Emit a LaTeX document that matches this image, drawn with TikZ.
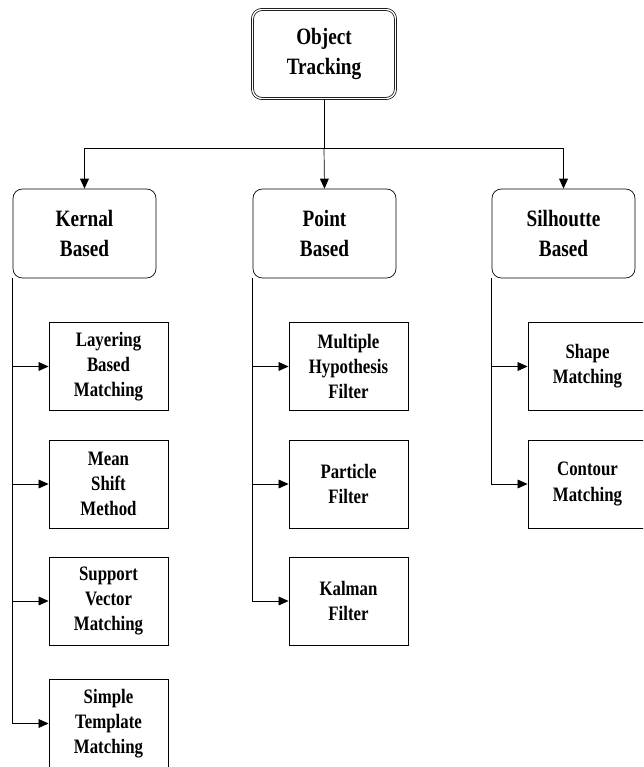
\documentclass[tikz,border=0pt]{standalone}
\usepackage{fontspec}
\setmainfont{Liberation Serif}[FakeStretch=0.82]
\usetikzlibrary{arrows.meta}

\begin{document}
\begin{tikzpicture}[x=0.03cm, y=-0.03cm]
\clip (0,0) rectangle (643,767);
\fill[white] (0,0) rectangle (643,767);

% Nodos principales
\begin{scope}[
		every node/.style = {draw = black, line width = .6pt,
		rounded corners = 8pt, align = center, inner sep = 0pt,
		minimum width = 4.29cm, minimum height = 2.67cm,
		font = \bfseries\fontsize{20}{25}\selectfont}]
	\node[double, double distance = 1.2pt] (OT) at (324,54) {Object\\Tracking};
	\node (KB) at (84.5,233.5) {Kernal\\Based};
	\node (PB) at (324.5,233.5) {Point\\Based};
	\node (SB) at (563.5,233.5) {Silhoutte\\Based};
\end{scope}

% Nodos hoja
\begin{scope}[
		every node/.style = {draw = black, line width = .8pt,
		align = center, inner sep = 0pt,
		minimum width = 3.57cm, minimum height = 2.64cm,
		font = \bfseries\fontsize{17.5}{21.5}\selectfont}]
	\node (K1) at (108.5,366.5) {Layering\\Based\\Matching};
	\node (K2) at (108.5,484) {Mean\\Shift\\Method};
	\node (K3) at (108.5,601) {Support\\Vector\\Matching};
	\node (K4) at (108.5,723.5) {Simple\\Template\\Matching};
	\node (P1) at (348.5,366.5) {Multiple\\Hypothesis\\Filter};
	\node (P2) at (348.5,484) {Particle\\Filter};
	\node (P3) at (348.5,601) {Kalman\\Filter};
	\node (S1) at (587.5,366.5) {Shape\\Matching};
	\node (S2) at (587.5,484) {Contour\\Matching};
\end{scope}

% Paths
\coordinate (split) at (324,148);
\begin{scope}[line width = .6pt, -{Triangle[length = 8.5pt, width = 7.5pt]}]
	\draw[-] (OT.south) -- (split);
	\draw (split) -| (KB.north);
	\draw (split) -- (PB.north);
	\draw (split) -| (SB.north);
	\foreach \leaf in {K1,K2,K3,K4}
		\draw (KB.south west) |- (\leaf.west);
	\foreach \leaf in {P1,P2,P3}
		\draw (PB.south west) |- (\leaf.west);
	\foreach \leaf in {S1,S2}
		\draw (SB.south west) |- (\leaf.west);
\end{scope}
\end{tikzpicture}
\end{document}
